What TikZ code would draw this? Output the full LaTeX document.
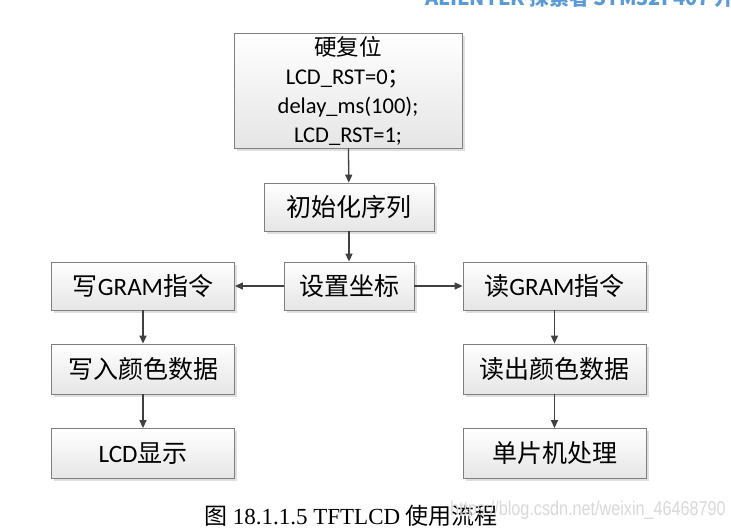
\documentclass[tikz,border=0pt]{standalone}
\usepackage{fontspec}
\setmainfont{Carlito}
\newfontfamily\cjk{Noto Sans CJK SC}
\newfontfamily\capfont{Liberation Serif}
\newfontfamily\wmfont{Liberation Sans}
\usetikzlibrary{arrows.meta,shadows}
\newcommand\zh[1]{{\cjk #1}}
\definecolor{boxline}{HTML}{7F7F7F}
\definecolor{arrowgray}{HTML}{404040}
\definecolor{headblue}{HTML}{5B9BD5}
\definecolor{wmgray}{HTML}{D9D9D9}
\tikzset{
	flowbox/.style={draw=boxline, line width=0.8pt, top color=white, bottom color=gray!20,
		minimum height=48pt, inner sep=0pt, align=center, font=\fontsize{25}{29}\selectfont,
		drop shadow={shadow xshift=2.5pt, shadow yshift=-2.5pt, opacity=0.25, fill=gray}},
	flowarrow/.style={-{Triangle[length=8pt,width=7pt]}, draw=arrowgray, line width=1.3pt}
}
\begin{document}
\begin{tikzpicture}[x=1pt,y=-1pt]
	\clip (0,0) rectangle (731,528);
	\fill[white] (0,0) rectangle (731,528);
	% header and caption
	\node[anchor=base west, inner sep=0pt, text=headblue, font=\cjk\bfseries\fontsize{20}{24}\selectfont] (head) at (425,5) {ALIENTEK 探索者 STM32F407 开发指南};
	\node[anchor=base, inner sep=0pt, font=\fontsize{23}{27}\selectfont] (caption) at (351,524) {{\cjk 图} {\capfont 18.1.1.5 TFTLCD} {\cjk 使用流程}};
	\node[anchor=base west, inner sep=0pt, text=wmgray, xscale=0.81, font=\wmfont\fontsize{20}{24}\selectfont] (mark) at (450,515) {https://blog.csdn.net/weixin\_46468790};
	% boxes
	\node[flowbox, minimum width=228pt, minimum height=115pt, font=\fontsize{22.5}{29}\selectfont] (reset) at (348,90.5)
		{\zh{硬复位}\\LCD\_RST=0\zh{；}\\delay\_ms(100);\\LCD\_RST=1;};
	\node[flowbox, minimum width=170pt] (init) at (349,207) {\zh{初始化序列}};
	\node[flowbox, minimum width=130pt] (setxy) at (349,286) {\zh{设置坐标}};
	\node[flowbox, minimum width=183pt] (wcmd) at (143,286) {\zh{写}GRAM\zh{指令}};
	\node[flowbox, minimum width=183pt] (rcmd) at (554.5,286) {\zh{读}GRAM\zh{指令}};
	\node[flowbox, minimum width=183pt, minimum height=50pt] (wdata) at (143,369) {\zh{写入颜色数据}};
	\node[flowbox, minimum width=183pt, minimum height=50pt] (rdata) at (554.5,369) {\zh{读出颜色数据}};
	\node[flowbox, minimum width=183pt, minimum height=50pt] (show) at (143,453.5) {LCD\zh{显示}};
	\node[flowbox, minimum width=183pt, minimum height=50pt] (mcu) at (554.5,453.5) {\zh{单片机处理}};
	% arrows
	\draw[flowarrow] (reset) -- (init);
	\draw[flowarrow] (init) -- (setxy);
	\draw[flowarrow] (setxy) -- (wcmd);
	\draw[flowarrow] (setxy) -- (rcmd);
	\draw[flowarrow] (wcmd) -- (wdata);
	\draw[flowarrow] (wdata) -- (show);
	\draw[flowarrow] (rcmd) -- (rdata);
	\draw[flowarrow] (rdata) -- (mcu);
\end{tikzpicture}
\end{document}
